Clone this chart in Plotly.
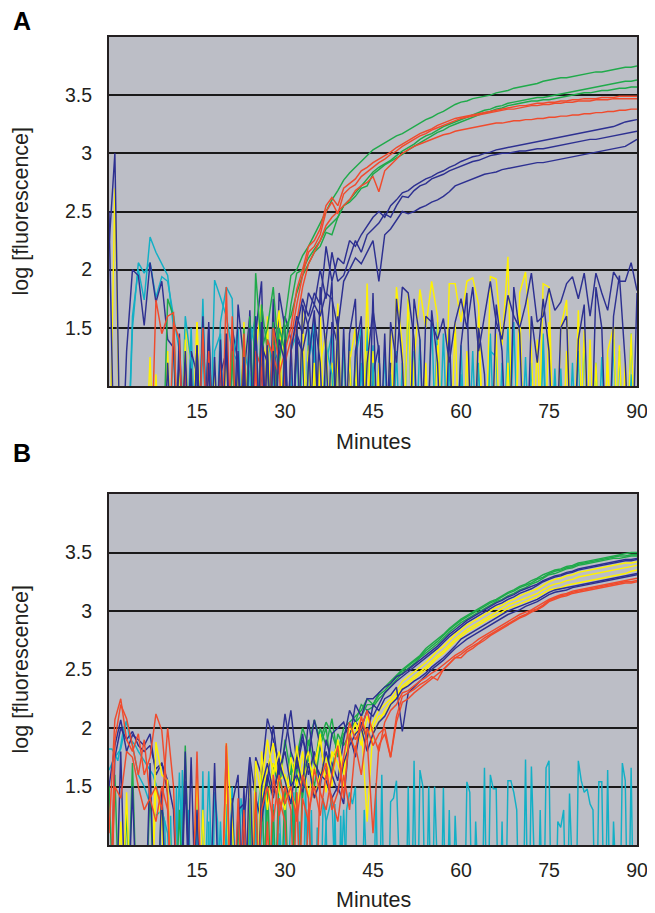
import plotly.graph_objects as go

# ---------------- time axes ----------------
minutes = list(range(0, 91))
half_minutes = [i / 2 for i in range(181)]
x_ticks = [15, 30, 45, 60, 75, 90]
x_tick_text = ["15", "30", "45", "60", "75", "90"]
y_ticks = [1.5, 2, 2.5, 3, 3.5]
y_tick_text = ["1.5", "2", "2.5", "3", "3.5"]

# ---------------- Panel A (one value per minute, 0..90) ----------------
a_green_1 = [0,0,0,0,0,0,0,0,0,0,
             1.75,1.6,0,0,0,0,0,0,0,0,
             0,1.3,0,1.4,0,1.97,1.3,1.5,1.85,1.2,
             1.6,1.95,2.0,2.12,2.2,2.3,2.4,2.5,2.6,2.68,
             2.77,2.83,2.88,2.93,2.98,3.03,3.06,3.09,3.12,3.15,
             3.17,3.2,3.23,3.26,3.29,3.31,3.34,3.36,3.39,3.42,
             3.44,3.45,3.47,3.48,3.49,3.5,3.52,3.53,3.54,3.56,
             3.57,3.58,3.59,3.6,3.62,3.63,3.64,3.65,3.65,3.66,
             3.67,3.68,3.69,3.7,3.7,3.71,3.72,3.73,3.74,3.74,
             3.75]
a_green_2 = [0,0,0,0,0,0,0,0,0,0,
             0,0,0,0,0,0,0,0,0,0,
             0,0,0,0,1.6,0,1.7,1.3,0,1.5,
             1.3,1.7,1.97,2.0,2.1,2.18,2.25,2.35,2.4,2.45,
             2.55,2.6,2.66,2.72,2.78,2.84,2.88,2.91,2.94,2.98,
             3.02,3.05,3.08,3.12,3.15,3.17,3.2,3.23,3.25,3.27,
             3.29,3.31,3.33,3.35,3.37,3.38,3.4,3.41,3.43,3.44,
             3.45,3.46,3.47,3.48,3.48,3.49,3.5,3.51,3.52,3.53,
             3.54,3.55,3.56,3.57,3.58,3.59,3.6,3.61,3.62,3.62,
             3.63]
a_green_3 = [0,0,0,0,0,0,0,0,0,0,
             0,0,0,0,0,0,0,0,0,0,
             0,0,0,1.5,0,0,1.4,0,1.55,0,
             1.5,1.6,1.8,1.95,2.05,2.15,2.2,2.32,2.3,2.45,
             2.55,2.58,2.63,2.7,2.72,2.82,2.86,2.9,2.93,2.96,
             2.99,3.03,3.06,3.09,3.12,3.15,3.18,3.2,3.23,3.25,
             3.27,3.29,3.31,3.33,3.35,3.36,3.38,3.39,3.41,3.42,
             3.43,3.44,3.45,3.45,3.46,3.46,3.47,3.48,3.49,3.5,
             3.51,3.52,3.52,3.53,3.54,3.54,3.55,3.56,3.56,3.57,
             3.57]
a_red_1 = [0,0,0,0,0,0,0,0,1.74,1.45,
           1.6,1.63,0,1.2,0,0,0,1.3,0,0,
           1.85,0,0,1.45,0,1.2,0,1.4,1.25,1.1,
           1.3,1.5,1.83,2.0,2.2,2.25,2.35,2.55,2.62,2.55,
           2.7,2.74,2.78,2.85,2.88,2.92,2.95,2.98,3.01,3.05,
           3.08,3.11,3.14,3.17,3.19,3.21,3.24,3.26,3.28,3.3,
           3.31,3.32,3.33,3.34,3.35,3.36,3.37,3.38,3.39,3.4,
           3.41,3.41,3.42,3.43,3.43,3.44,3.44,3.45,3.45,3.46,
           3.46,3.47,3.47,3.47,3.48,3.48,3.48,3.49,3.49,3.49,
           3.49]
a_red_2 = [0,0,0,0,0,0,0,0,0,0,
           0,1.55,1.4,0,0,0,1.5,0,0,0,
           0,1.6,0,0,0,1.3,1.15,0,1.35,0,
           1.2,1.4,1.7,1.95,2.15,2.2,2.3,2.5,2.58,2.48,
           2.65,2.7,2.73,2.8,2.84,2.88,2.92,2.95,2.99,3.02,
           3.06,3.09,3.12,3.15,3.17,3.2,3.22,3.24,3.26,3.28,
           3.3,3.31,3.32,3.33,3.34,3.35,3.36,3.37,3.38,3.38,
           3.39,3.4,3.41,3.41,3.42,3.42,3.43,3.43,3.44,3.44,
           3.45,3.45,3.45,3.46,3.46,3.46,3.47,3.47,3.47,3.47,
           3.47]
a_red_3 = [0,0,0,0,0,0,0,0,0,0,
           0,0,0,0,0,0,0,0,0,1.25,
           0,0,0,0,0,0,1.4,0,1.5,1.2,
           0,1.3,1.55,1.85,2.05,2.15,2.25,2.38,2.45,2.5,
           2.55,2.6,2.68,2.72,2.75,2.8,2.67,2.85,2.9,2.95,
           3.0,3.03,3.06,3.08,3.1,3.12,3.14,3.16,3.17,3.19,
           3.2,3.21,3.22,3.23,3.24,3.25,3.26,3.26,3.27,3.28,
           3.28,3.29,3.29,3.3,3.3,3.31,3.31,3.32,3.32,3.33,
           3.33,3.34,3.34,3.35,3.35,3.36,3.36,3.37,3.37,3.38,
           3.38]
a_navy_1 = [0,0,0,0,0,0,0,0,0,0,
            0,0,0,0,0,1.35,0,0,0,1.4,
            0,0,1.3,0,0,1.6,0,0,1.3,0,
            1.4,0,1.5,1.75,1.6,1.8,1.7,2.2,1.9,2.1,
            2.05,2.25,2.2,2.3,2.38,2.45,2.5,2.45,2.55,2.6,
            2.66,2.68,2.72,2.75,2.78,2.8,2.83,2.85,2.88,2.9,
            2.93,2.95,2.97,2.98,3.0,3.01,3.03,3.04,3.05,3.06,
            3.07,3.08,3.09,3.1,3.11,3.12,3.13,3.14,3.15,3.16,
            3.17,3.18,3.19,3.2,3.21,3.22,3.23,3.25,3.27,3.28,
            3.29]
a_navy_2 = [0,0,0,0,0,0,0,0,0,0,
            0,0,0,0,0,0,0,1.2,0,0,
            1.45,0,0,0,1.5,0,0,1.35,0,0,
            0,1.3,1.6,1.45,1.8,1.7,2.0,1.75,2.15,1.9,
            1.95,2.1,2.25,2.15,2.3,2.35,2.4,2.48,2.45,2.55,
            2.63,2.62,2.68,2.72,2.74,2.78,2.8,2.82,2.85,2.87,
            2.89,2.91,2.93,2.94,2.96,2.98,2.99,3.0,3.0,3.01,
            3.02,3.02,3.03,3.04,3.04,3.05,3.06,3.07,3.08,3.09,
            3.1,3.11,3.12,3.12,3.13,3.14,3.15,3.16,3.17,3.18,
            3.19]
a_navy_3 = [0,0,0,0,0,0,0,0,0,0,
            0,0,0,1.3,0,0,0,0,0,0,
            0,0,0,1.25,0,0,1.55,0,0,1.4,
            1.2,0,1.4,1.3,1.55,1.7,1.6,1.8,1.75,1.5,
            1.9,2.0,2.1,2.05,2.15,2.25,1.9,2.3,2.35,2.42,
            2.5,2.48,2.5,2.53,2.55,2.58,2.6,2.63,2.67,2.72,
            2.74,2.76,2.78,2.8,2.82,2.83,2.84,2.86,2.87,2.88,
            2.89,2.9,2.91,2.92,2.92,2.93,2.94,2.95,2.96,2.97,
            2.98,2.99,3.0,3.01,3.02,3.03,3.04,3.05,3.06,3.09,
            3.12]
a_navy_base_1 = [2.2,3.0,0,1.3,2.0,1.95,1.52,2.06,1.72,1.9,
                 1.4,1.33,0,1.2,0,1.35,0,1.5,0,1.1,
                 1.3,0,1.7,1.2,0,1.45,1.9,0,1.55,1.25,
                 1.6,1.4,0,1.7,1.5,0,1.85,1.3,0,1.6,
                 0,1.45,1.75,0,1.2,1.65,1.3,0,1.55,1.2,
                 1.85,1.8,1.4,0,1.6,1.55,1.4,1.58,1.2,1.55,
                 1.75,1.5,1.85,1.3,1.6,1.9,1.55,1.4,1.78,1.6,
                 1.5,1.7,1.97,1.55,1.6,1.84,1.65,1.72,1.88,1.94,
                 1.75,1.97,1.6,1.97,1.8,1.65,1.98,1.9,1.9,2.06,
                 1.82]
a_navy_base_2 = [2.5,0,0,0,0,0,0,0,0,0,
                 0,0,1.3,0,1.15,0,1.6,0,1.25,0,
                 0,1.4,0,1.1,1.6,0,1.2,0,1.75,0,
                 1.3,0,1.55,0,1.2,1.65,0,1.4,1.9,0,
                 1.5,0,1.3,1.6,0,1.8,0,1.45,0,1.75,
                 1.2,0,1.75,1.4,0,1.65,1.2,0,1.5,0,
                 1.35,1.8,0,1.5,1.1,0,1.7,1.3,0,1.85,
                 1.45,0,1.6,1.2,1.75,1.3,0,1.5,1.6,0,
                 1.4,1.7,0,1.85,1.5,0,1.6,1.95,1.2,0,
                 1.8]
# extra baseline traces, minutes 0..48 only
a_navy_base_3 = [0,0,0,0,0,0,0,0,0,0,
                 1.2,0,1.45,0,1.3,1.1,0,1.55,0,1.3,
                 0,1.5,1.2,0,1.65,0,1.35,1.2,0,1.8,
                 1.5,0,1.45,1.3,0,1.6,1.2,0,1.55,1.35,
                 0,1.25,0,1.5,0,1.1,1.35,0,1.2]
a_cyan_3 = [0,0,0,0,0,0,0,0,0,0,
            0,1.4,0,1.6,1.2,0,1.75,0,1.3,1.45,
            0,1.2,1.5,0,1.35,1.6,0,1.4,1.2,1.5,
            0,1.3,1.45,0,1.2,1.55,0,1.35,1.1,0,
            1.4,0,1.25,1.5,0,1.2,0,1.3,0]
a_yellow_3 = [0,0,0,0,0,0,0,1.25,0,0,
              1.3,0,0,1.5,1.2,0,0,1.45,0,1.2,
              0,1.35,0,1.55,0,0,1.4,1.2,0,1.6,
              1.25,0,1.5,0,1.35,0,1.2,1.45,0,1.3,
              0,1.2,1.5,0,1.3,0,1.15,0,0]
a_yellow_1 = [0,2.7,0,0,0,0,0,0,0,0,
              0,0,0,1.4,0,1.55,0,0,1.2,0,
              1.3,0,0,1.5,0,1.3,1.7,0,1.3,1.65,
              0,0,0,1.65,0,1.2,0,1.4,0,1.71,
              0,1.3,0,0,1.88,0,1.2,0,0,1.85,
              1.34,0,1.2,1.83,1.5,1.9,1.6,0,1.88,1.88,
              1.55,1.9,1.93,1.7,0,1.94,1.92,1.35,2.11,0,
              1.8,1.98,1.3,0,1.88,1.85,0,1.5,1.74,0,
              0,1.48,0,1.2,0,1.3,1.51,0,1.2,0,
              0]
a_yellow_2 = [0,0,0,0,0,0,0,0,1.1,0,
              0,0,1.2,0,0,1.55,0,1.3,0,0,
              1.45,0,1.15,0,0,1.4,0,1.6,0,1.45,
              1.2,0,1.5,0,1.3,0,1.65,0,1.2,0,
              1.4,0,1.2,0,0,1.3,0,0,1.5,0,
              0,1.8,0,0,1.2,0,1.35,0,0,1.55,
              0,1.3,0,1.6,0,0,1.45,0,1.2,0,
              1.7,0,0,1.4,0,1.55,0,0,1.3,0,
              1.65,0,1.4,0,0,1.25,0,1.35,0,1.45,
              0]
a_cyan_1 = [0,0,0,0,1.6,2.0,1.74,2.28,2.15,2.05,
            1.95,1.5,0,1.4,0,1.2,0,1.3,0,1.55,
            1.85,1.75,0,1.3,1.1,0,1.45,0,1.2,1.3,
            0,1.15,0,1.3,0,1.4,0,1.2,1.45,0,
            1.35,0,1.1,0,1.5,0,1.25,0,0,1.3,
            0,1.75,0,1.4,0,0,1.55,0,1.2,0,
            1.35,0,0,1.2,0,1.3,1.25,0,1.5,0,
            0,1.25,0,0,1.45,0,1.15,0,0,1.2,
            0,1.4,0,0,1.25,0,0,1.3,0,1.45,
            0]
a_cyan_2 = [0,0,0,0,1.5,2.06,1.97,2.06,1.76,1.94,
            1.9,1.6,1.3,0,1.5,0,1.35,0,1.91,1.76,
            1.6,1.3,1.2,0,1.55,1.3,0,1.45,1.1,0,
            1.25,0,1.35,0,1.5,1.2,0,1.45,0,1.3,
            0,1.4,0,1.2,0,1.35,0,0,1.1,0,
            1.2,0,1.3,0,0,1.6,0,1.45,0,0,
            1.1,0,1.3,0,0,1.45,0,1.2,0,1.55,
            0,0,1.2,0,1.3,0,0,1.15,0,0,
            1.3,0,0,1.2,0,0,1.4,0,0,1.1,
            0]

# ---------------- Panel B (one value per minute, 0..90) ----------------
b_green_1 = [0,0,0,0,1.7,0,0,1.5,0,0,
             0,0,0,1.85,0,0,0,0,0,0,
             0,0,0,0,0,1.5,0,1.3,1.7,1.45,
             1.9,1.6,1.75,2.0,1.85,2.07,1.9,2.05,1.95,1.8,
             2.0,2.05,2.1,2.15,2.25,2.2,2.3,2.35,2.4,2.45,
             2.5,2.54,2.58,2.62,2.68,2.72,2.76,2.8,2.85,2.89,
             2.93,2.96,2.99,3.02,3.05,3.08,3.1,3.13,3.16,3.18,
             3.21,3.23,3.26,3.28,3.31,3.33,3.35,3.36,3.38,3.39,
             3.41,3.42,3.43,3.44,3.45,3.46,3.47,3.48,3.49,3.5,
             3.5]
b_green_2 = [0,1.6,0,1.3,0,0,0,0,0,1.45,
             0,0,0,0,0,0,0,0,0,0,
             0,0,1.2,0,0,0,1.6,0,1.3,0,
             1.5,0,1.7,1.4,1.9,1.65,2.0,1.85,2.08,1.75,
             1.95,2.0,2.05,2.1,2.2,2.2,2.28,2.32,2.38,2.44,
             2.49,2.53,2.57,2.61,2.66,2.7,2.74,2.79,2.84,2.88,
             2.92,2.95,2.98,3.01,3.04,3.07,3.09,3.12,3.15,3.17,
             3.2,3.22,3.24,3.27,3.29,3.32,3.34,3.35,3.37,3.38,
             3.4,3.41,3.42,3.43,3.44,3.45,3.46,3.47,3.47,3.48,
             3.48]
b_green_3 = [1.55,0,0,0,0,0,0,0,0,0,
             0,0,1.3,0,0,0,0,0,0,0,
             0,0,0,0,1.4,0,0,1.55,0,1.65,
             1.3,1.8,0,1.55,1.75,1.5,1.85,2.0,1.6,1.95,
             1.85,1.95,2.05,2.2,2.15,2.18,2.25,2.3,2.36,2.42,
             2.47,2.51,2.55,2.6,2.64,2.68,2.72,2.77,2.82,2.86,
             2.9,2.93,2.96,2.99,3.02,3.05,3.08,3.1,3.13,3.15,
             3.18,3.2,3.23,3.25,3.28,3.31,3.32,3.34,3.36,3.37,
             3.39,3.4,3.41,3.42,3.43,3.44,3.45,3.45,3.46,3.47,
             3.47]
b_navy_1 = [1.5,1.85,2.07,1.8,1.94,1.9,1.85,1.95,1.6,1.7,
            1.45,0,0,0,1.75,0,0,0,1.7,0,
            0,0,1.3,1.35,0,1.75,1.6,2.08,1.9,1.7,
            2.12,1.8,1.65,1.9,1.75,2.07,1.85,1.6,1.95,2.0,
            2.05,1.9,2.2,2.1,2.25,2.25,2.3,2.35,2.38,2.44,
            2.46,2.5,2.54,2.58,2.62,2.66,2.7,2.75,2.8,2.84,
            2.88,2.92,2.95,2.98,3.01,3.04,3.07,3.09,3.12,3.14,
            3.17,3.19,3.21,3.23,3.26,3.28,3.3,3.31,3.33,3.34,
            3.36,3.37,3.38,3.39,3.4,3.41,3.42,3.43,3.44,3.44,
            3.45]
b_navy_2 = [0,1.75,2.0,1.9,1.97,1.85,1.8,1.85,1.65,1.7,
            1.55,1.3,0,1.8,0,0,0,0,0,0,
            0,1.4,0,1.2,1.75,1.4,1.2,1.55,2.02,1.6,
            1.85,2.15,1.7,1.95,1.6,1.8,1.5,1.9,1.7,1.55,
            1.9,2.15,2.05,2.0,2.15,2.1,2.2,2.3,2.35,2.4,
            2.44,2.48,2.52,2.56,2.6,2.64,2.68,2.73,2.78,2.82,
            2.86,2.9,2.93,2.96,2.99,3.02,3.05,3.07,3.1,3.12,
            3.15,3.17,3.19,3.22,3.25,3.27,3.29,3.3,3.32,3.33,
            3.35,3.36,3.37,3.38,3.39,3.4,3.41,3.42,3.43,3.43,
            3.44]
b_navy_3 = [0,0,1.8,0,1.5,0,0,1.7,0,1.5,
            0,0,0,0,0,1.3,0,0,0,0,
            0,1.35,1.6,0,1.75,0,1.5,1.7,1.45,1.65,
            1.8,1.5,1.6,1.45,1.7,1.4,1.55,1.8,1.6,1.45,
            1.7,1.85,1.95,2.0,1.8,1.95,2.05,2.1,2.2,2.25,
            2.33,2.36,2.4,2.43,2.47,2.52,2.56,2.6,2.65,2.7,
            2.76,2.79,2.82,2.85,2.88,2.91,2.94,2.97,3.0,3.02,
            3.04,3.06,3.08,3.1,3.13,3.16,3.18,3.19,3.2,3.21,
            3.22,3.23,3.24,3.25,3.26,3.27,3.28,3.29,3.3,3.31,
            3.32]
b_navy_4 = [0,0,0,0,0,0,0,0,0,0,
            0,0,0,1.55,0,0,0,0,0,0,
            0,0,0,1.5,0,0,1.3,1.6,1.4,1.7,
            1.55,1.35,1.75,1.5,2.07,1.7,1.6,1.55,1.4,1.5,
            1.35,1.95,1.75,2.05,1.9,2.2,2.15,2.25,2.28,2.35,
            1.97,2.3,2.35,2.4,2.45,2.5,2.54,2.58,2.63,2.68,
            2.72,2.76,2.79,2.82,2.85,2.88,2.91,2.94,2.97,2.99,
            3.01,3.04,3.06,3.08,3.11,3.14,3.16,3.17,3.18,3.2,
            3.21,3.22,3.23,3.24,3.25,3.26,3.27,3.28,3.29,3.3,
            3.31]
b_yellow_1 = [0,0,1.2,0,0,0,0,0,1.88,1.6,
              1.55,0,0,0,0,1.6,0,0,0,0,
              1.87,1.2,0,0,0,1.72,1.4,1.65,1.87,1.45,
              1.3,1.75,1.5,1.8,1.4,1.7,1.9,1.55,1.75,1.85,
              1.6,2.0,1.95,2.1,1.9,2.05,2.15,2.2,2.25,2.32,
              2.4,2.44,2.48,2.52,2.56,2.61,2.66,2.7,2.75,2.8,
              2.84,2.88,2.91,2.94,2.97,3.0,3.03,3.05,3.08,3.1,
              3.13,3.15,3.17,3.19,3.22,3.25,3.27,3.28,3.3,3.31,
              3.33,3.34,3.35,3.36,3.37,3.38,3.39,3.4,3.41,3.41,
              3.42]
b_yellow_2 = [0,0,0,0,0,0,0,0,0,0,
              0,0,0,0,0,0,0,0,0,0,
              1.6,0,0,0,0,0,1.8,1.3,1.7,1.55,
              1.6,1.45,1.3,1.65,1.8,1.4,1.6,1.75,1.5,1.9,
              1.65,1.95,1.8,2.05,1.2,2.0,2.1,2.12,2.2,2.27,
              2.34,2.38,2.42,2.46,2.5,2.55,2.6,2.64,2.69,2.74,
              2.78,2.82,2.85,2.88,2.91,2.94,2.96,2.99,3.02,3.04,
              3.06,3.08,3.1,3.12,3.15,3.18,3.19,3.2,3.22,3.23,
              3.24,3.25,3.26,3.27,3.28,3.29,3.3,3.31,3.32,3.34,
              3.35]
b_yellow_3 = [0,0,0,1.45,0,0,0,0,1.5,1.2,
              0,0,0,0,0,0,1.3,0,0,0,
              1.75,0,0,0,1.65,0,1.5,1.9,1.6,1.8,
              1.55,1.4,1.85,1.5,1.7,1.6,1.95,1.45,1.8,1.7,
              1.5,1.9,2.05,1.85,2.1,1.95,2.05,2.15,2.22,2.28,
              2.36,2.4,2.44,2.48,2.52,2.57,2.62,2.66,2.71,2.76,
              2.8,2.84,2.87,2.9,2.93,2.96,2.99,3.02,3.05,3.07,
              3.09,3.11,3.13,3.15,3.18,3.21,3.23,3.24,3.26,3.27,
              3.29,3.3,3.31,3.32,3.33,3.34,3.35,3.36,3.37,3.38,
              3.39]
b_red_1 = [1.1,2.07,2.25,1.9,1.8,1.95,1.6,1.75,2.12,1.98,
           1.4,0,0,0,0,1.8,0,0,0,0,
           1.87,0,1.4,0,0,0,1.3,1.5,1.2,1.6,
           1.35,1.5,1.2,1.6,1.4,0,1.55,1.7,1.3,1.45,
           1.75,2.05,1.9,2.0,2.15,1.95,1.8,2.05,2.15,2.2,
           2.3,2.32,2.36,2.4,2.43,2.47,2.5,2.54,2.58,2.62,
           2.65,2.69,2.72,2.76,2.79,2.82,2.85,2.88,2.91,2.94,
           2.97,2.99,3.01,3.04,3.07,3.1,3.12,3.14,3.15,3.17,
           3.18,3.19,3.2,3.21,3.22,3.23,3.24,3.25,3.26,3.27,
           3.28]
b_red_2 = [0,1.9,2.2,2.08,1.85,1.6,1.9,1.4,1.5,1.3,
           2.0,1.5,0,0,0,0,0,0,0,0,
           1.85,0,0,1.3,0,1.45,0,0,1.6,1.25,
           1.5,1.3,0,1.4,1.2,1.65,1.45,1.3,1.6,1.85,
           1.4,1.95,1.8,2.1,1.9,1.1,1.85,1.95,1.75,2.1,
           2.27,2.3,2.33,2.37,2.4,2.44,2.41,2.5,2.55,2.6,
           2.63,2.67,2.7,2.73,2.77,2.8,2.83,2.86,2.89,2.92,
           2.95,2.97,3.0,3.02,3.05,3.09,3.11,3.13,3.14,3.16,
           3.17,3.18,3.19,3.2,3.21,3.22,3.23,3.24,3.25,3.25,
           3.26]
b_red_3 = [0,1.5,1.4,1.8,1.75,1.5,1.3,1.4,1.2,1.5,
           1.3,0,0,0,0,0,0,0,0,0,
           0,0,0,0,0,0,0,1.2,0,1.4,
           1.2,0,1.45,0,1.3,1.5,1.25,1.6,1.4,1.2,
           1.6,1.3,1.85,1.6,2.0,1.85,1.95,2.0,1.75,2.05,
           2.22,2.25,2.3,2.34,2.38,2.42,2.46,2.5,2.55,2.6,
           2.6,2.65,2.68,2.72,2.75,2.79,2.82,2.85,2.88,2.91,
           2.94,2.96,2.99,3.01,3.04,3.08,3.1,3.12,3.13,3.15,
           3.16,3.17,3.18,3.19,3.2,3.21,3.22,3.23,3.24,3.24,
           3.25]
# second cyan trace, minutes 0..41 only
b_cyan_2 = [1.64,1.75,1.82,2.06,1.85,1.6,1.5,1.35,1.25,1.3,
            1.1,0,1.62,0,0,1.3,0,1.63,0,1.2,
            0,1.5,0,1.3,0,1.2,1.55,0,0,1.35,
            0,1.25,1.45,0,1.3,0,0,1.2,1.4,0,
            1.3,0]
# cyan baseline trace sampled every half minute (0, 0.5, ..., 90)
b_cyan_1 = [1.82,1.82,1.78,1.72,1.85,2.0,2.06,1.92,1.88,1.85,
            1.8,1.76,1.72,1.68,1.64,1.6,1.52,1.4,1.3,1.2,
            0,1.25,0,1.5,0,1.64,0,1.3,0,0,
            1.4,0,1.63,0,1.2,0,1.45,1.2,0,0,
            1.35,0,1.2,0,0,1.4,1.15,0,1.3,0,
            1.45,0,1.2,1.5,0,0,1.35,0,1.1,0,
            1.3,0,0,1.45,0,1.2,0,1.55,0,1.3,
            0,1.15,0,1.4,1.2,0,0,1.35,0,1.25,
            0,1.3,1.45,1.35,1.5,0,0,1.3,0,0,
            0,1.53,0,1.6,0,0,1.37,1.4,1.55,0,
            0,0,1.5,0,1.72,0,1.64,1.5,0,1.5,
            0,1.5,0,0,1.49,0,1.3,0,1.25,0,
            0,0,1.54,1.45,0,1.2,0,0,1.66,0,
            1.6,1.48,1.48,0,1.2,0,1.55,1.55,1.45,1.3,
            0,0,1.73,0,1.67,0,0,1.3,0,1.66,
            1.72,0,0,1.2,1.15,1.3,0,1.44,0,0,
            1.72,1.55,1.45,1.48,1.35,1.3,0,1.54,1.54,0,
            1.64,0,1.2,0,0,1.7,1.55,0,1.66,0,
            0]

GREEN = "#1FAA4A"
RED = "#F04B2D"
NAVY = "#2D3091"
YELLOW = "#FFF200"
CYAN = "#12B0C6"

panel_a = [
    (a_cyan_1, CYAN), (a_cyan_2, CYAN), (a_yellow_2, YELLOW), (a_yellow_3, YELLOW),
    (a_navy_base_3, NAVY), (a_cyan_3, CYAN), (a_yellow_1, YELLOW),
    (a_navy_base_2, NAVY), (a_navy_base_1, NAVY),
    (a_green_1, GREEN), (a_green_2, GREEN), (a_green_3, GREEN),
    (a_red_1, RED), (a_red_2, RED), (a_red_3, RED),
    (a_navy_1, NAVY), (a_navy_2, NAVY), (a_navy_3, NAVY),
]
panel_b = [
    (b_cyan_2, CYAN),
    (b_green_1, GREEN), (b_green_2, GREEN), (b_green_3, GREEN),
    (b_navy_1, NAVY), (b_navy_2, NAVY),
    (b_yellow_1, YELLOW), (b_yellow_3, YELLOW), (b_yellow_2, YELLOW),
    (b_navy_3, NAVY), (b_navy_4, NAVY),
    (b_red_1, RED), (b_red_2, RED), (b_red_3, RED),
]

fig = go.Figure()

def add(values, color, xa, ya, xs=minutes):
    fig.add_trace(go.Scatter(x=xs[:len(values)], y=values, mode="lines",
                             line=dict(color=color, width=1.45),
                             xaxis=xa, yaxis=ya, showlegend=False,
                             hoverinfo="skip"))

for vals, col in panel_a:
    add(vals, col, "x", "y")
add(b_cyan_1, CYAN, "x2", "y2", half_minutes)
for vals, col in panel_b:
    add(vals, col, "x2", "y2")

# page is offset by the 8px default body margin; positions below are page pixels
W, H = 655, 913
OFF = 8
def px(p):
    return (p - OFF) / W
def py(p):
    return 1 - (p - OFF) / H

L, R = 109, 637
A_TOP, A_BOT = 37, 386
B_TOP, B_BOT = 494, 845

FONT = "Liberation Sans, Arial, Helvetica, sans-serif"
INK = "#231F20"

def xaxis_cfg(anchor):
    return dict(domain=[px(L), px(R)], range=[0, 90], anchor=anchor,
                automargin=False,
                tickvals=x_ticks, ticktext=x_tick_text, showgrid=False,
                zeroline=False, showline=True, mirror=True,
                linecolor=INK, linewidth=2, ticks="",
                ticklabelstandoff=7,
                tickfont=dict(family=FONT, size=19.5, color=INK))

def yaxis_cfg(anchor, top, bot):
    return dict(domain=[py(bot), py(top)], range=[1, 4], anchor=anchor,
                automargin=False,
                tickvals=y_ticks, ticktext=y_tick_text, showgrid=True,
                gridcolor="#1A1A1A", gridwidth=1.8, zeroline=False,
                showline=True, mirror=True, linecolor=INK, linewidth=2,
                ticks="", ticklabelstandoff=11,
                tickfont=dict(family=FONT, size=19.5, color=INK))

annotations = []
for label, top, bot, label_y, title_y in (("A", A_TOP, A_BOT, 21, 442),
                                          ("B", B_TOP, B_BOT, 453, 900)):
    annotations.append(dict(text="Minutes", x=px((L + R) / 2), y=py(title_y),
                            xref="paper", yref="paper", showarrow=False,
                            font=dict(family=FONT, size=21.5, color=INK),
                            xanchor="center", yanchor="middle"))
    annotations.append(dict(text="log [fluorescence]", x=px(20), y=py((top + bot) / 2),
                            xref="paper", yref="paper", showarrow=False, textangle=-90,
                            font=dict(family=FONT, size=21.5, color=INK),
                            xanchor="center", yanchor="middle"))
    annotations.append(dict(text="<b>" + label + "</b>", x=px(22), y=py(label_y),
                            xref="paper", yref="paper", showarrow=False,
                            font=dict(family=FONT, size=25, color="#000000"),
                            xanchor="center", yanchor="middle"))

fig.update_layout(
    width=W, height=H, margin=dict(l=0, r=0, t=0, b=0, autoexpand=False),
    paper_bgcolor="white", plot_bgcolor="#BCBEC6",
    xaxis=xaxis_cfg("y"), yaxis=yaxis_cfg("x", A_TOP, A_BOT),
    xaxis2=xaxis_cfg("y2"), yaxis2=yaxis_cfg("x2", B_TOP, B_BOT),
    annotations=annotations, showlegend=False,
)

fig.write_html("out.html")
